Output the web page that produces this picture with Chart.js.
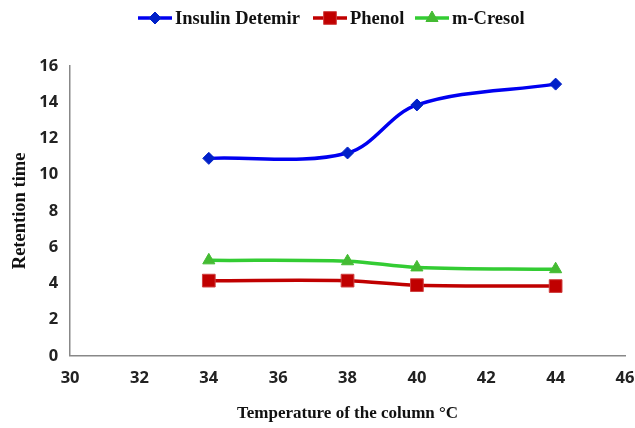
<!DOCTYPE html>
<html>
<head>
<meta charset="utf-8">
<script src="https://cdn.jsdelivr.net/npm/chart.js@4"></script>
<style>
  html, body { margin: 0; padding: 0; background: #fff; }
  #wrap { width: 635px; height: 428px; }
</style>
</head>
<body>
<div id="wrap"><canvas id="chart"></canvas></div>
<script>
// Data
const temps = [34, 38, 40, 44];
const insulinDetemir = [10.9, 11.2, 13.85, 15.0];
const phenol = [4.15, 4.15, 3.9, 3.85];
const mCresol = [5.27, 5.22, 4.88, 4.78];
const xTicks = [30, 32, 34, 36, 38, 40, 42, 44, 46];

const toPts = vals => temps.map((t, i) => ({ x: t, y: vals[i] }));

// Legend drawn by hand: line with marker through it
const lineLegend = {
  id: "lineLegend",
  afterDraw(chart) {
    const ctx = chart.ctx;
    const starts = [138, 313, 415];
    ctx.save();
    ctx.font = "bold 18.5px 'Liberation Serif'";
    ctx.textBaseline = "middle";
    chart.data.datasets.forEach((ds, i) => {
      const x = starts[i], y = 18;
      ctx.strokeStyle = ds.borderColor;
      ctx.lineWidth = 3.5;
      ctx.beginPath();
      ctx.moveTo(x, y);
      ctx.lineTo(x + 34, y);
      ctx.stroke();
      ctx.fillStyle = ds.pointBackgroundColor;
      ctx.strokeStyle = ds.pointBorderColor;
      ctx.lineWidth = 1;
      Chart.helpers.drawPoint(ctx, { pointStyle: ds.pointStyle, radius: ds.pointRadius, rotation: 0, borderWidth: 1 }, x + 17, y);
      ctx.fillStyle = "#111";
      ctx.fillText(ds.label, x + 37, y + 1);
    });
    ctx.restore();
  }
};

new Chart(document.getElementById("chart"), {
  type: "line",
  data: {
    datasets: [
      {
        label: "Insulin Detemir",
        data: toPts(insulinDetemir),
        borderColor: "#0000f0",
        pointBackgroundColor: "#0020c8",
        pointBorderColor: "#0020c8",
        pointStyle: "rectRot",
        pointRadius: 6
      },
      {
        label: "Phenol",
        data: toPts(phenol),
        borderColor: "#c00000",
        pointBackgroundColor: "#c00000",
        pointBorderColor: "#d04040",
        pointStyle: "rect",
        pointRadius: 9
      },
      {
        label: "m-Cresol",
        data: toPts(mCresol),
        borderColor: "#33cc33",
        pointBackgroundColor: "#44bb33",
        pointBorderColor: "#44bb33",
        pointStyle: "triangle",
        pointRadius: 7
      }
    ].map(d => Object.assign(d, {
      borderWidth: 3.5,
      pointBorderWidth: 1,
      tension: 0.35,
      fill: false
    }))
  },
  options: {
    responsive: true,
    maintainAspectRatio: false,
    animation: false,
    layout: { padding: { top: 66, right: 0, left: 5, bottom: 0 } },
    plugins: {
      legend: { display: false },
      tooltip: { enabled: false }
    },
    scales: {
      x: {
        type: "linear",
        min: 30,
        max: 46,
        afterBuildTicks: axis => { axis.ticks = xTicks.map(v => ({ value: v })); },
        afterFit: axis => { axis.paddingRight = 10; },
        grid: { display: false },
        border: { display: true, color: "#888", width: 1.5 },
        ticks: {
          padding: 5,
          color: "#222",
          font: { family: "'Open Sans'", weight: "bold", size: 16.5 }
        },
        title: {
          display: true,
          text: "Temperature of the column °C",
          color: "#111",
          padding: { top: 10 },
          font: { family: "'Liberation Serif'", weight: "bold", size: 17 }
        }
      },
      y: {
        min: 0,
        max: 16,
        ticks: {
          stepSize: 2,
          padding: 4,
          color: "#222",
          font: { family: "'Open Sans'", weight: "bold", size: 16.5 }
        },
        grid: { display: false },
        border: { display: true, color: "#888", width: 1.5 },
        title: {
          display: true,
          text: "Retention time",
          color: "#111",
          padding: { bottom: 4 },
          font: { family: "'Liberation Serif'", weight: "bold", size: 18.5 }
        }
      }
    }
  },
  plugins: [lineLegend]
});
</script>
</body>
</html>
